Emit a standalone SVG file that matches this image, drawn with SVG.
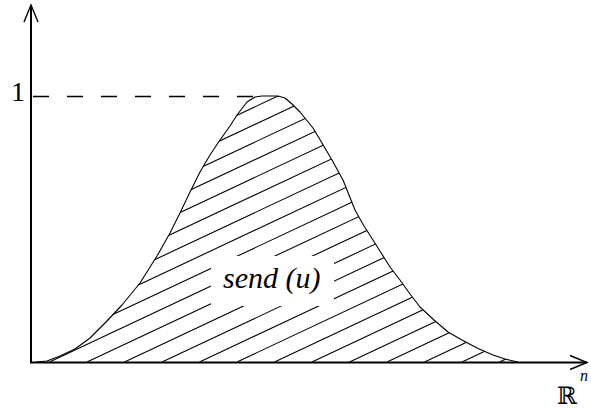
<svg xmlns="http://www.w3.org/2000/svg" width="591" height="409" viewBox="0 0 591 409">
<style>
.axis{stroke:#000;stroke-width:2;fill:none}
.curve{stroke:#000;stroke-width:1.1;fill:none;stroke-linejoin:round}
.hatch{stroke:#000;stroke-width:1.1;fill:none}
.dash{stroke:#000;stroke-width:1.6;stroke-dasharray:16 18;fill:none}
.lbl{font-family:"Liberation Serif",serif;fill:#000}
</style>
<defs>
<marker id="arr" markerUnits="userSpaceOnUse" markerWidth="22" markerHeight="18" viewBox="0 0 22 18" refX="19" refY="9" orient="auto">
<path d="M2,2 L19,9 L2,16" fill="none" stroke="#000" stroke-width="1.4"/>
</marker>
<clipPath id="area">
<path clip-rule="evenodd" d="M36,362 L47,361 60,356 75,349 90,338 106,322 122,305 140,283 157,256 170,233 180,213 190,192 200,172 210,155 220,140 230,126 237,115 247,102 255,97 262,96 278,96 285,98 292,104 300,112 313,128 322,143 332,160 343,180 355,210 364,226 373,240 390,267 400,280 410,294 420,307 434,320 448,332 462,340 477,348 493,355 505,359 518,362 Z M211,256 L334,256 L334,306 L211,306 Z"/>
</clipPath>
</defs>
<g id="connectors">
<line id="y-axis" class="axis" x1="31" y1="363" x2="31" y2="5" marker-end="url(#arr)"/>
<line id="x-axis" class="axis" x1="30" y1="362.5" x2="587" y2="362.5" marker-end="url(#arr)"/>
<line id="level-one" class="dash" x1="33" y1="96.5" x2="258" y2="96.5"/>
</g>
<g id="hatching" clip-path="url(#area)">
<path class="hatch" d="M-363,362 L237,80 M-325.5,362 L274.5,80 M-288,362 L312,80 M-250.5,362 L349.5,80 M-213,362 L387,80 M-175.5,362 L424.5,80 M-138,362 L462,80 M-100.5,362 L499.5,80 M-63,362 L537,80 M-25.5,362 L574.5,80 M12,362 L612,80 M49.5,362 L649.5,80 M87,362 L687,80 M124.5,362 L724.5,80 M162,362 L762,80 M199.5,362 L799.5,80 M237,362 L837,80 M274.5,362 L874.5,80 M312,362 L912,80 M349.5,362 L949.5,80 M387,362 L987,80 M424.5,362 L1024.5,80 M462,362 L1062,80 M499.5,362 L1099.5,80"/>
</g>
<g id="curve-node">
<path class="curve" d="M36,362 L47,361 60,356 75,349 90,338 106,322 122,305 140,283 157,256 170,233 180,213 190,192 200,172 210,155 220,140 230,126 237,115 247,102 255,97 262,96 278,96 285,98 292,104 300,112 313,128 322,143 332,160 343,180 355,210 364,226 373,240 390,267 400,280 410,294 420,307 434,320 448,332 462,340 477,348 493,355 505,359 518,362"/>
</g>
<g id="label-send">
<text class="lbl" x="223" y="288" font-size="30" font-style="italic">send (u)</text>
</g>
<g id="label-one">
<text class="lbl" x="11" y="101" font-size="28">1</text>
</g>
<g id="label-rn">
<text x="557" y="404" font-family="DejaVu Serif, serif" font-size="24">ℝ<tspan font-family="Liberation Serif, serif" font-style="italic" font-size="16" dy="-23" dx="3">n</tspan></text>
</g>
</svg>
